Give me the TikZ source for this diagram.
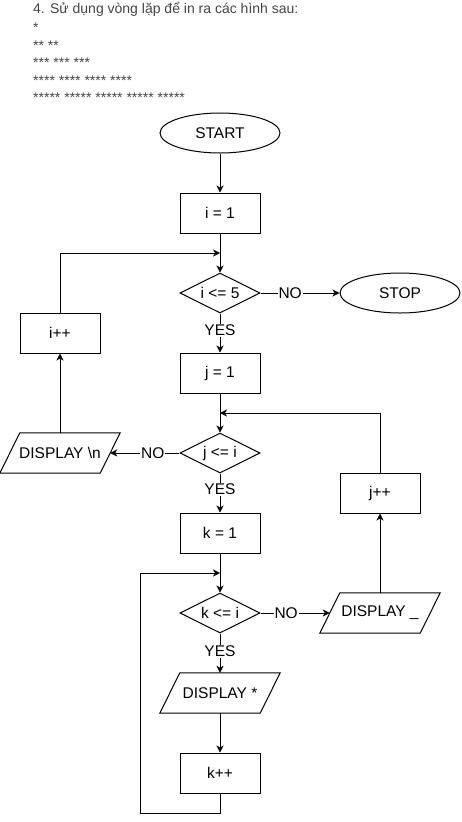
\documentclass[tikz,border=0pt]{standalone}
\usepackage{fontspec}
\setmainfont{Liberation Sans}
\usetikzlibrary{shapes.geometric,arrows.meta}
\definecolor{hdr}{HTML}{444444}
\tikzset{
  box/.style={draw, line width=1pt, minimum width=80pt, minimum height=40pt, inner sep=0pt, font=\fontsize{15.5}{18}\selectfont},
  term/.style={draw, ellipse, line width=1pt, minimum width=120pt, minimum height=40pt, inner sep=0pt, font=\fontsize{15.5}{18}\selectfont},
  dec/.style={draw, diamond, aspect=2, line width=1pt, minimum width=80pt, minimum height=40pt, inner sep=0pt, font=\fontsize{15.5}{18}\selectfont},
  para/.style={minimum width=100pt, minimum height=40pt, inner sep=0pt, font=\fontsize{15.5}{18}\selectfont},
  arr/.style={line width=1pt, -{Stealth[length=7pt,width=7pt,inset=2pt]}},
  ln/.style={line width=1pt},
  lbl/.style={fill=white, inner sep=1pt, font=\fontsize{15.5}{18}\selectfont},
  hd/.style={anchor=base west, inner sep=0pt, text=hdr, font=\fontsize{14}{16}\selectfont},
}
\newcommand{\paradraw}[1]{\draw[line width=1pt] ([xshift=10pt]#1.north west) -- ([xshift=10pt]#1.north east) -- ([xshift=-10pt]#1.south east) -- ([xshift=-10pt]#1.south west) -- cycle;}
\begin{document}
\begin{tikzpicture}[x=1pt,y=-1pt]
\useasboundingbox (0,0) rectangle (461,822);
% header
\node[hd] (h0) at (33,13) {4. Sử dụng vòng lặp để in ra các hình sau:};
\node[hd] (h1) at (33,32) {*};
\node[hd] (h2) at (33,50) {** **};
\node[hd] (h3) at (33,67) {*** *** ***};
\node[hd] (h4) at (33,85) {**** **** **** ****};
\node[hd] (h5) at (33,102) {***** ***** ***** ***** *****};
% nodes
\node[term] (start) at (220,133) {START};
\node[box] (i1) at (220,213) {i = 1};
\node[dec] (d1) at (220,293) {i <= 5};
\node[term] (stop) at (400,293) {STOP};
\node[box] (ipp) at (60,333) {i++};
\node[box] (j1) at (220,373) {j = 1};
\node[dec] (d2) at (220,453) {j <= i};
\node[para] (dn) at (60,453) {DISPLAY \textbackslash n};
\node[box] (jpp) at (380,493) {j++};
\node[box] (k1) at (220,533) {k = 1};
\node[dec] (d3) at (220,613) {k <= i};
\node[para] (ds) at (380,613) {DISPLAY \_};
\node[para] (dstar) at (220,693) {DISPLAY *};
\node[box] (kpp) at (220,773) {k++};
\paradraw{dn}
\paradraw{ds}
\paradraw{dstar}
\coordinate (m1) at (220,253);
\coordinate (m2) at (220,413);
\coordinate (m3) at (220,573);
\coordinate (c1) at (220,813);
\coordinate (c2) at (140,813);
\coordinate (c3) at (140,573);
% edges
\draw[arr] (start) -- (i1);
\draw[arr] (i1) -- (d1);
\draw[arr] (ipp.north) |- (m1);
\draw[arr] (d1) -- node[lbl, pos=0.375] {NO} (stop);
\draw[arr] (d1) -- node[lbl, pos=0.425] {YES} (j1);
\draw[arr] (j1) -- (d2);
\draw[arr] (jpp.north) |- (m2);
\draw[arr] (d2) -- node[lbl, pos=0.386] {NO} (dn);
\draw[arr] (dn.north) -- (ipp.south);
\draw[arr] (d2) -- node[lbl, pos=0.4] {YES} (k1);
\draw[arr] (k1) -- (d3);
\draw[arr] (d3) -- node[lbl, pos=0.37] {NO} (ds);
\draw[arr] (ds.north) -- (jpp.south);
\draw[arr] (d3) -- node[lbl, pos=0.45] {YES} (dstar);
\draw[arr] (dstar) -- (kpp);
\draw[arr] (kpp.south) -- (c1) -- (c2) -- (c3) -- (m3);
\end{tikzpicture}
\end{document}
